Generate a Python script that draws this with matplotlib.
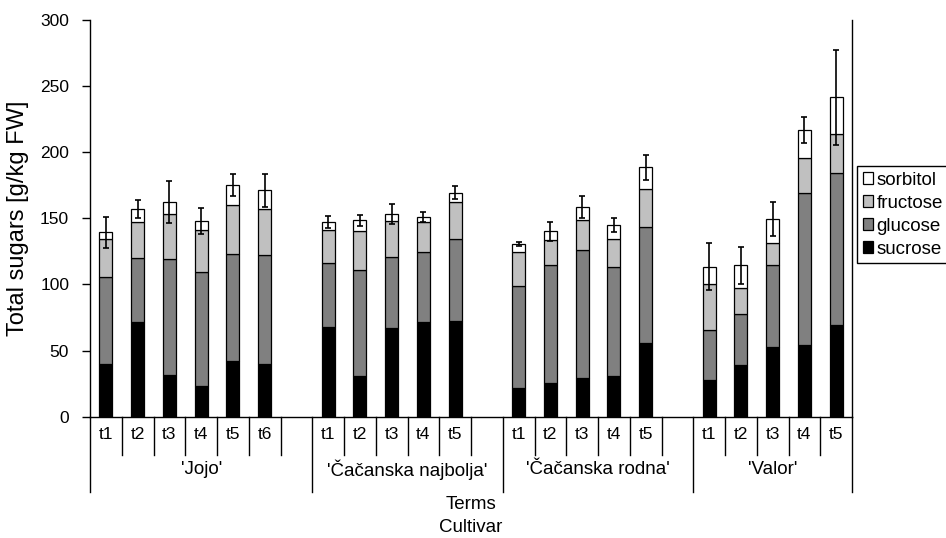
import matplotlib.pyplot as plt
from matplotlib.transforms import blended_transform_factory

plt.rcParams['font.family'] = ['Liberation Sans', 'DejaVu Sans']

cultivars = ["'Jojo'", "'Čačanska najbolja'", "'Čačanska rodna'", "'Valor'"]
terms_per_cultivar = [6, 5, 5, 5]

# sugar content per term, g/kg FW (Jojo t1-t6, Najbolja t1-t5, Rodna t1-t5, Valor t1-t5)
sucrose = [40.1, 71.8, 31.5, 23.4, 42.3, 40.1,
           67.8, 30.8, 66.8, 71.4, 72.3,
           21.5, 25.5, 29.0, 30.8, 55.5,
           27.7, 38.9, 52.9, 54.2, 69.3]
glucose = [65.5, 47.9, 87.7, 86.2, 80.7, 82.1,
           48.1, 80.3, 53.9, 53.1, 62.2,
           77.1, 88.9, 97.0, 82.6, 88.1,
           37.8, 38.7, 61.8, 114.7, 114.7]
fructose = [28.9, 27.7, 34.0, 31.5, 37.0, 34.6,
            25.2, 29.5, 27.0, 22.9, 28.0,
            25.7, 19.2, 22.7, 21.1, 28.3,
            34.8, 19.4, 16.8, 26.9, 29.5]
sorbitol = [4.9, 9.6, 9.1, 6.8, 15.1, 14.3,
            6.3, 7.8, 5.5, 3.8, 6.8,
            6.0, 6.5, 9.8, 10.6, 16.6,
            13.1, 17.4, 18.2, 20.7, 27.9]
total_sd = [11.8, 6.8, 16.0, 9.6, 8.0, 12.6,
            4.5, 4.3, 7.3, 3.8, 4.8,
            1.5, 7.0, 8.5, 5.3, 9.5,
            18.0, 14.0, 12.8, 9.8, 36.0]

# one empty slot after every cultivar except the last
xpos, term_labels, bounds = [], [], [0]
slot = 0
for i, n in enumerate(terms_per_cultivar):
    for k in range(n):
        xpos.append(slot)
        term_labels.append(f"t{k + 1}")
        slot += 1
    if i < len(terms_per_cultivar) - 1:
        slot += 1
    bounds.append(slot)
n_slots = slot

fig = plt.figure(figsize=(9.46, 5.38), dpi=100)
ax = fig.add_axes([90 / 946, 1 - 416.7 / 538, 762 / 946, 396.9 / 538])

series = [("sucrose", sucrose, "#000000"),
          ("glucose", glucose, "#808080"),
          ("fructose", fructose, "#c0c0c0"),
          ("sorbitol", sorbitol, "#ffffff")]
bottom = [0.0] * len(xpos)
handles = {}
for name, vals, col in series:
    h = ax.bar(xpos, vals, width=0.41, bottom=bottom, color=col,
               edgecolor="black", linewidth=0.9, label=name, zorder=2)
    handles[name] = h
    bottom = [b + v for b, v in zip(bottom, vals)]

ax.errorbar(xpos, bottom, yerr=total_sd, fmt="none", ecolor="black",
            elinewidth=1.2, capsize=2.5, capthick=1.2, zorder=3)

ax.set_xlim(-0.5, n_slots - 0.5)
ax.set_ylim(0, 300)
ax.set_yticks(range(0, 301, 50))
ax.tick_params(axis="y", direction="out", length=6, width=1, pad=9, labelsize=12.5)
ax.set_xticks([])
ax.spines["top"].set_visible(False)
for s in ("left", "right", "bottom"):
    ax.spines[s].set_linewidth(1)
ax.set_ylabel("Total sugars [g/kg FW]", fontsize=17, labelpad=8)

# category axis underneath: terms, then cultivars
tr = blended_transform_factory(ax.transData, ax.transAxes)
for b in range(n_slots + 1):
    low = -0.189 if b in bounds else -0.0965
    ax.plot([b - 0.5, b - 0.5], [0, low], color="black", lw=1,
            transform=tr, clip_on=False)
for xp, lab in zip(xpos, term_labels):
    ax.text(xp, -0.046, lab, transform=tr, ha="center", va="center", fontsize=12.5)
for i, name in enumerate(cultivars):
    mid = (bounds[i] + bounds[i + 1]) / 2 - 0.5
    ax.text(mid, -0.134, name, transform=tr, ha="center", va="center", fontsize=13.5)

ax.text(0.5, -0.22, "Terms", transform=ax.transAxes, ha="center", va="center", fontsize=13.5)
ax.text(0.5, -0.278, "Cultivar", transform=ax.transAxes, ha="center", va="center", fontsize=13.5)

order = ["sorbitol", "fructose", "glucose", "sucrose"]
leg = fig.legend([handles[k] for k in order], order, loc="upper left",
                 bbox_to_anchor=(857 / 946, 1 - 166 / 538), fontsize=13.5,
                 frameon=True, fancybox=False, edgecolor="black", framealpha=1,
                 handlelength=0.55, handleheight=0.55, handletextpad=0.2,
                 labelspacing=0.32, borderpad=0.3, borderaxespad=0)
leg.get_frame().set_linewidth(1)

fig.savefig("out.png", dpi=100)
